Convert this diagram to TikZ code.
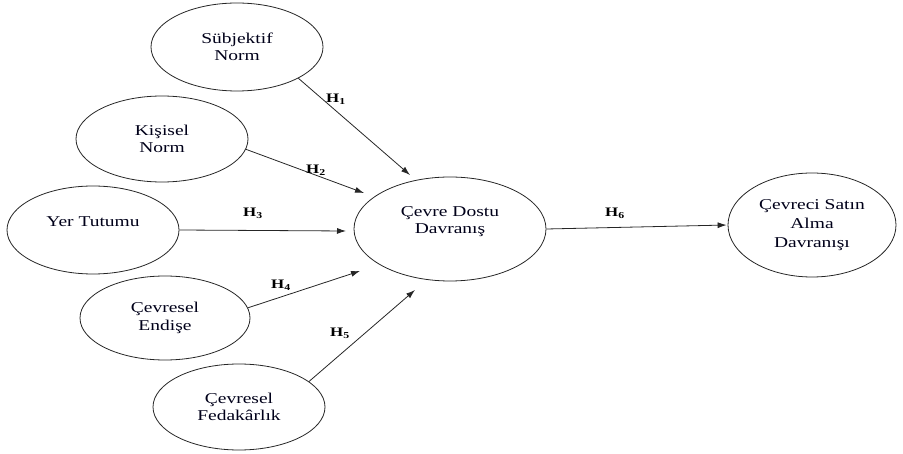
\documentclass[tikz,border=0pt]{standalone}
\usepackage{fontspec}
\setmainfont{Liberation Serif}
\newcommand{\wide}[1]{\scalebox{1.3}[1]{#1}}
\usetikzlibrary{arrows.meta,shapes.geometric}
\begin{document}
\begin{tikzpicture}[x=1pt,y=-1pt,
  oval/.style={draw=black!85,line width=0.8pt,ellipse,inner sep=0pt,align=center,
    font=\fontsize{15}{17.5}\selectfont,text=black!90!blue},
  conn/.style={draw=black!85,line width=0.8pt,-{Latex[length=9pt,width=6pt]}},
  hlab/.style={font=\fontsize{13}{13}\selectfont\bfseries,inner sep=0pt}]
\useasboundingbox (0,0) rectangle (903,454);
\node[oval,minimum width=172pt,minimum height=88pt] (sn) at (237,47) {\wide{Sübjektif}\\\wide{Norm}};
\node[oval,minimum width=172pt,minimum height=86pt] (kn) at (162,139) {\wide{Kişisel}\\\wide{Norm}};
\node[oval,minimum width=172pt,minimum height=88pt] (yt) at (93,230) {\wide{Yer Tutumu}\\\mbox{}};
\node[oval,minimum width=170pt,minimum height=84pt] (ce) at (165,318) {\wide{Çevresel}\\\wide{Endişe}};
\node[oval,minimum width=172pt,minimum height=86pt] (cf) at (239,407) {\wide{Çevresel}\\\wide{Fedakârlık}};
\node[oval,minimum width=192pt,minimum height=104pt] (cd) at (450,229) {\wide{Çevre Dostu}\\\wide{Davranış}\\\mbox{}};
\node[oval,minimum width=168pt,minimum height=104pt,font=\fontsize{15}{19}\selectfont] (cs) at (812,225) {\wide{Çevreci Satın}\\\wide{Alma}\\\wide{Davranışı}};
\coordinate (t1) at (410,175);
\coordinate (t2) at (364,193);
\coordinate (t3) at (346,231);
\coordinate (t4) at (360,271);
\coordinate (t5) at (415,290);
\draw[conn] (sn.-27) -- (t1);
\draw[conn] (kn.-7.5) -- (t2);
\draw[conn] (yt.0) -- (t3);
\draw[conn] (ce.7.5) -- (t4);
\draw[conn] (cf.20.6) -- (t5);
\draw[conn,shorten >=1pt] (cd.east) -- (cs.west);
\node[hlab] (h1) at (336,99) {\wide{H\textsubscript{1}}};
\node[hlab] (h2) at (316,170) {\wide{H\textsubscript{2}}};
\node[hlab] (h3) at (253,213) {\wide{H\textsubscript{3}}};
\node[hlab] (h4) at (281,285) {\wide{H\textsubscript{4}}};
\node[hlab] (h5) at (340,333) {\wide{H\textsubscript{5}}};
\node[hlab] (h6) at (615,213) {\wide{H\textsubscript{6}}};
\end{tikzpicture}
\end{document}
